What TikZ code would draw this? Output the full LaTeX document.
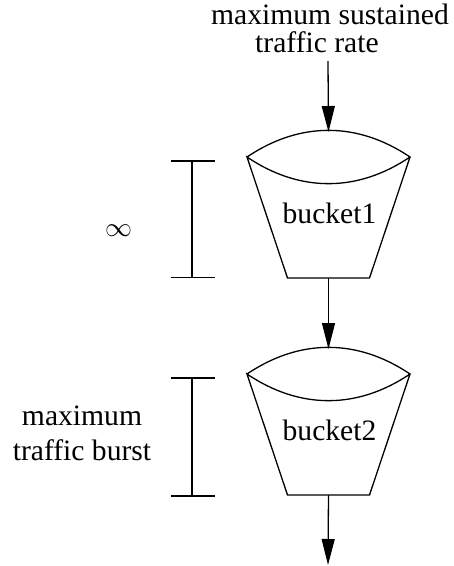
\documentclass[tikz,border=0pt]{standalone}
\usepackage{fontspec}
\usepackage{graphicx}
\setmainfont{Liberation Serif}
\usetikzlibrary{arrows.meta}
\tikzset{
  lw/.style={line width=1.3pt, black},
  lbl/.style={font=\fontsize{29.6}{35}\selectfont, inner sep=0pt, align=center},
  arr/.style={lw, -{Triangle[length=26pt, width=13pt]}},
  pics/bucket/.style={code={
    \draw[lw, line join=miter] (-81.5,0) to[bend left=34] (81.5,0)
          to[bend left=34] (-81.5,0) -- (-41,121) -- (41,121) -- (81.5,0);
    \node[lbl, anchor=base] (-text) at (1,66) {#1};
    \coordinate (-top) at (0,-25);
    \coordinate (-bot) at (0,121);
  }}
}
\begin{document}
\begin{tikzpicture}[x=1pt, y=-1pt]
  \useasboundingbox (0,0) rectangle (454,566);
  % top label (base anchor = baseline of last line)
  \node[lbl, anchor=base] (rate) at (330,52.5) {maximum sustained\\[-7pt]traffic rate\hspace*{26pt}};
  \coordinate (in1) at (328,61);
  % buckets
  \pic (b1) at (328.5,157) {bucket={bucket1}};
  \pic (b2) at (328.5,374) {bucket={bucket2}};
  \coordinate (out2) at (328,565);
  % connectors
  \draw[arr] (in1) -- (b1-top);
  \draw[arr] (b1-bot) -- (b2-top);
  \draw[arr] (b2-bot) -- (out2);
  % brackets
  \coordinate (br1t) at (192,161);
  \coordinate (br1b) at (192,277.5);
  \draw[lw] (br1t) -- (br1b);
  \draw[lw] ([xshift=-21pt]br1t) -- ([xshift=23pt]br1t);
  \draw[lw] ([xshift=-21pt]br1b) -- ([xshift=23pt]br1b);
  \coordinate (br2t) at (192,378);
  \coordinate (br2b) at (192,496);
  \draw[lw] (br2t) -- (br2b);
  \draw[lw] ([xshift=-21pt]br2t) -- ([xshift=23pt]br2t);
  \draw[lw] ([xshift=-21pt]br2b) -- ([xshift=23pt]br2b);
  % side labels
  \node[inner sep=0pt] (inf) at (118.5,231) {\scalebox{2.7}{$\infty$}};
  \node[lbl, anchor=base] (burst) at (82,460) {maximum\\traffic burst};
\end{tikzpicture}
\end{document}
